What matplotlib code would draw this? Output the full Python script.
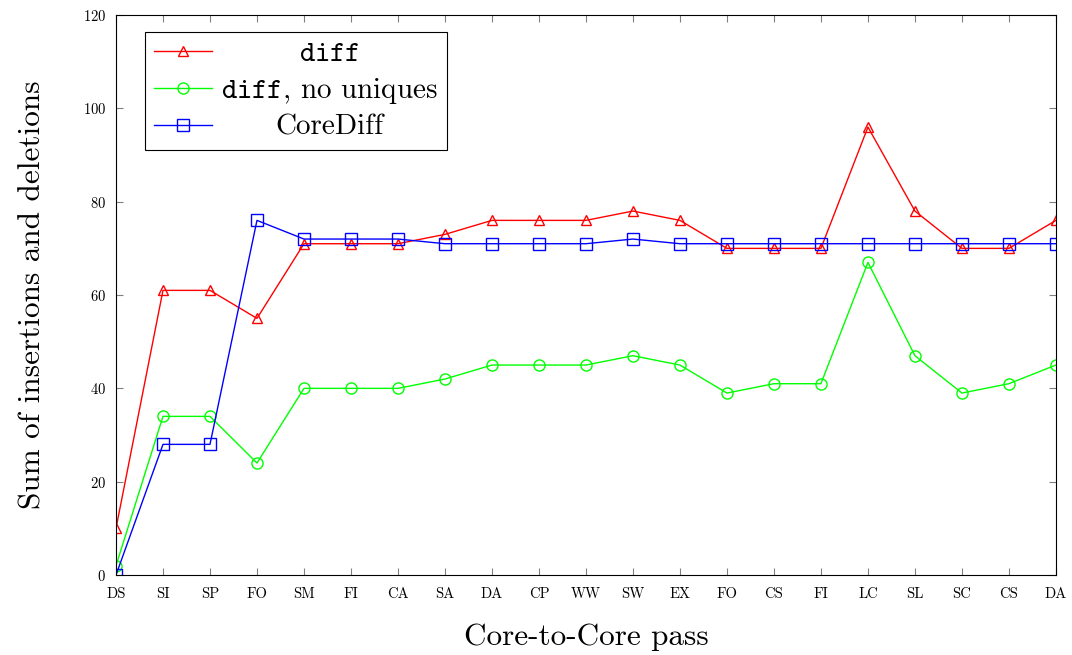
import matplotlib.pyplot as plt
from matplotlib.transforms import Affine2D

# Core-to-Core passes
passes = ["DS", "SI", "SP", "FO", "SM", "FI", "CA", "SA", "DA", "CP", "WW",
          "SW", "EX", "FO", "CS", "FI", "LC", "SL", "SC", "CS", "DA"]
diff_vals = [10, 61, 61, 55, 71, 71, 71, 73, 76, 76, 76, 78, 76, 70, 70, 70, 96, 78, 70, 70, 76]
diff_nouniq = [2, 34, 34, 24, 40, 40, 40, 42, 45, 45, 45, 47, 45, 39, 41, 41, 67, 47, 39, 41, 45]
corediff = [0, 28, 28, 76, 72, 72, 72, 71, 71, 71, 71, 72, 71, 71, 71, 71, 71, 71, 71, 71, 71]
labels = [r'$\mathtt{diff}$', r'$\mathtt{diff}$, no uniques', 'CoreDiff']

plt.rcParams['font.family'] = ['cmr10', 'DejaVu Serif']
plt.rcParams['mathtext.fontset'] = 'cm'
plt.rcParams['axes.formatter.use_mathtext'] = True

fig = plt.figure(figsize=(10.72, 6.55), dpi=100)
ax = fig.add_axes([0.1082, 0.1221, 0.8768, 0.8549])

x = list(range(len(passes)))
ax.plot(x, diff_vals, color='red', lw=1, marker='^', ms=7, mfc='none', mew=1, label=labels[0])
ax.plot(x, diff_nouniq, color='lime', lw=1, marker='o', ms=8, mfc='none', mew=1, label=labels[1])
ax.plot(x, corediff, color='blue', lw=1, marker='s', ms=8, mfc='none', mew=1, label=labels[2])

ax.set_xlim(0, len(passes) - 1)
ax.set_ylim(0, 120)
ax.set_xticks(x)
ax.set_xticklabels(passes)
ax.set_yticks(range(0, 121, 20))
ax.tick_params(direction='in', top=True, right=True, length=5, color='gray',
               labelsize=10.5, width=0.8)
ax.tick_params(axis='x', pad=9)
ax.tick_params(axis='y', pad=7)
for s in ax.spines.values():
    s.set_linewidth(0.8)

ax.set_xlabel('Core-to-Core pass', fontsize=22.5, labelpad=16)
ax.set_ylabel('Sum of insertions and deletions', fontsize=22.5, labelpad=26)

leg = ax.legend(loc='upper left', bbox_to_anchor=(0.031, 0.97), fontsize=21,
                frameon=True, fancybox=False, edgecolor='black', framealpha=1,
                handlelength=2.0, handletextpad=0.3, borderpad=0.3,
                labelspacing=0.3, borderaxespad=0)
leg.get_frame().set_linewidth(0.8)

# centre the legend entries like pgfplots does
fig.canvas.draw()
r = fig.canvas.get_renderer()
texts = leg.get_texts()
widths = [t.get_window_extent(r).width for t in texts]
wmax = max(widths)
for t, w in zip(texts, widths):
    t.set_transform(t.get_transform() + Affine2D().translate((wmax - w) / 2, 0))

fig.savefig('out.png', dpi=100)
